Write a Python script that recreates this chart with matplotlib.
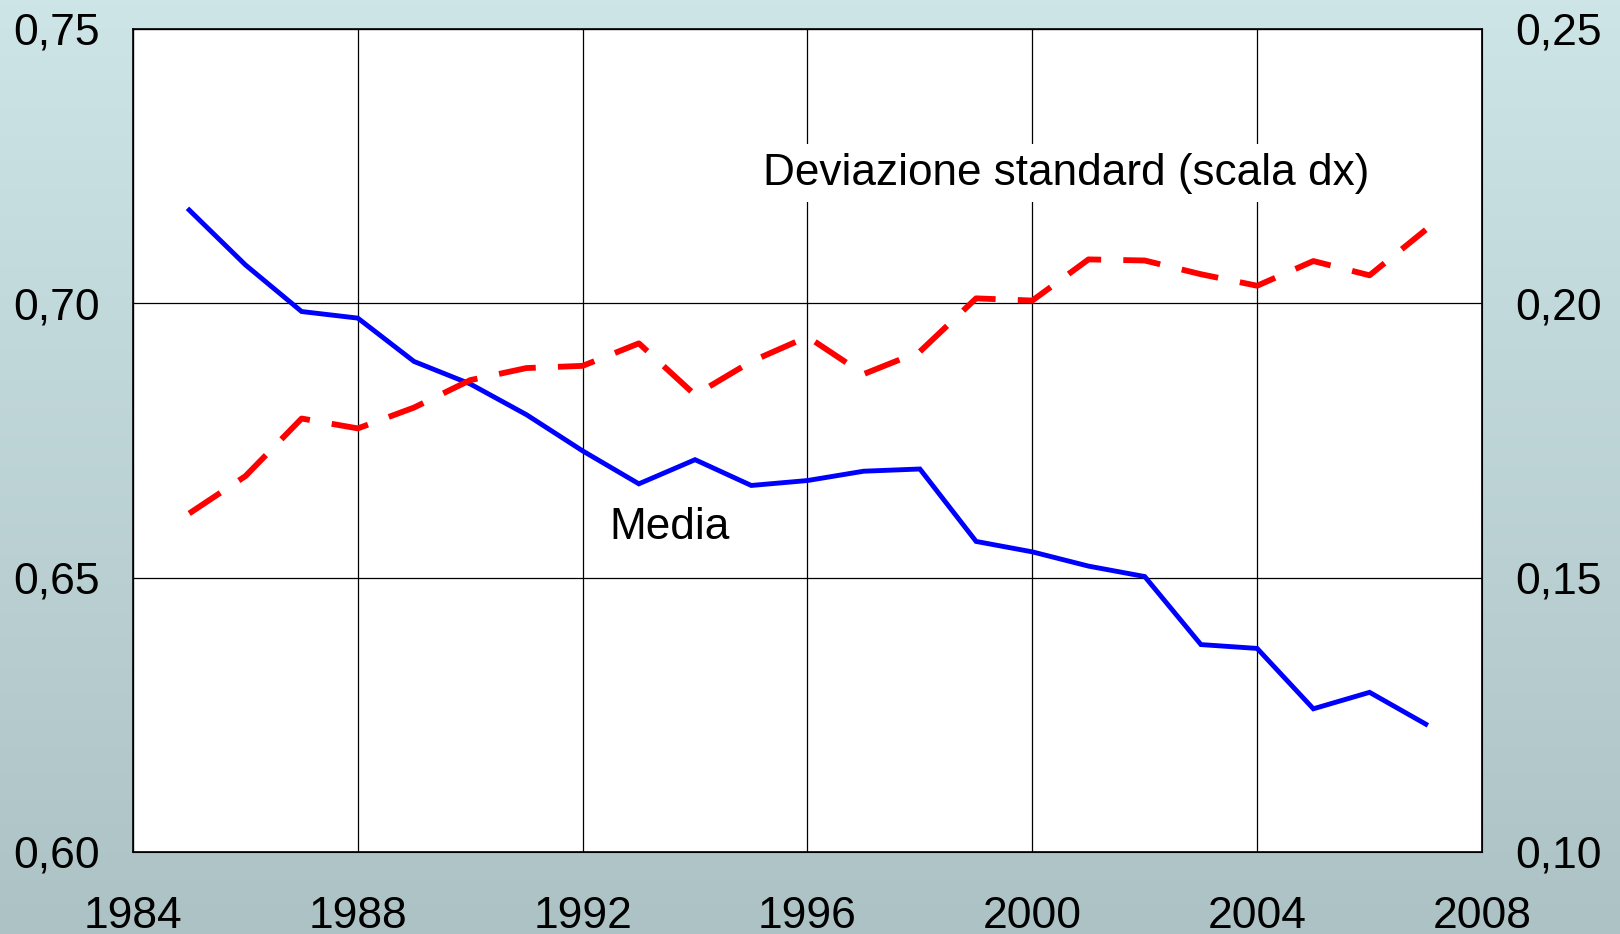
import numpy as np
import matplotlib
matplotlib.use("Agg")
import matplotlib.pyplot as plt
from matplotlib.colors import LinearSegmentedColormap

plt.rcParams['font.family'] = ['Liberation Sans', 'DejaVu Sans']

# Data
years = list(range(1985, 2008))
media = [0.7170, 0.7070, 0.6985, 0.6973, 0.6894, 0.6853, 0.6797, 0.6731,
         0.6671, 0.6715, 0.6668, 0.6677, 0.6694, 0.6698, 0.6566, 0.6547,
         0.6521, 0.6502, 0.6378, 0.6371, 0.6261, 0.6291, 0.6233]
dev_std = [0.1617, 0.1685, 0.1790, 0.1772, 0.1810, 0.1860, 0.1882, 0.1886,
           0.1927, 0.1833, 0.1894, 0.1939, 0.1871, 0.1912, 0.2009, 0.2005,
           0.2080, 0.2078, 0.2053, 0.2032, 0.2077, 0.2051, 0.2134]
x_ticks = [1984, 1988, 1992, 1996, 2000, 2004, 2008]
left_ticks = [0.60, 0.65, 0.70, 0.75]
right_ticks = [0.10, 0.15, 0.20, 0.25]

fig = plt.figure(figsize=(16.2, 9.34), dpi=100)

# gradient background
bg = fig.add_axes([0, 0, 1, 1], zorder=-10)
cmap = LinearSegmentedColormap.from_list("bg", ["#cde5e7", "#adc2c5"])
bg.imshow(np.linspace(0, 1, 256).reshape(-1, 1), aspect="auto", cmap=cmap,
          extent=[0, 1, 0, 1])
bg.axis("off")

ax = fig.add_axes([0.0821, 0.0878, 0.8327, 0.8812])
ax.set_facecolor("white")
ax.plot(years, media, color="#0000ff", lw=3.5, solid_joinstyle="miter", zorder=3)
ax.set_xlim(1984, 2008)
ax.set_ylim(0.60, 0.75)
ax.set_xticks(x_ticks)
ax.set_xticklabels([str(y) for y in x_ticks])
ax.set_yticks(left_ticks)
ax.set_yticklabels([f"{v:.2f}".replace(".", ",") for v in left_ticks])
ax.tick_params(axis="both", length=0, labelsize=32)
ax.tick_params(axis="y", pad=24)
ax.tick_params(axis="x", pad=32)
ax.grid(True, color="black", lw=0.9)
for s in ax.spines.values():
    s.set_linewidth(1.2)

ax2 = ax.twinx()
ax2.plot(years, dev_std, color="#ff0000", lw=4.2, dashes=(6.4, 3.8), zorder=3)
ax2.set_ylim(0.10, 0.25)
ax2.set_yticks(right_ticks)
ax2.set_yticklabels([f"{v:.2f}".replace(".", ",") for v in right_ticks])
ax2.tick_params(axis="y", length=0, labelsize=32, pad=24)

ax2.text(2000.6, 0.2237, "Deviazione standard (scala dx)", fontsize=31.8,
         ha="center", va="center", zorder=5,
         bbox=dict(facecolor="white", edgecolor="none", pad=6))
ax2.text(1993.55, 0.1592, "Media", fontsize=31.8, ha="center", va="center",
         zorder=5, bbox=dict(facecolor="white", edgecolor="none", pad=4))

fig.savefig("out.png", dpi=100)
